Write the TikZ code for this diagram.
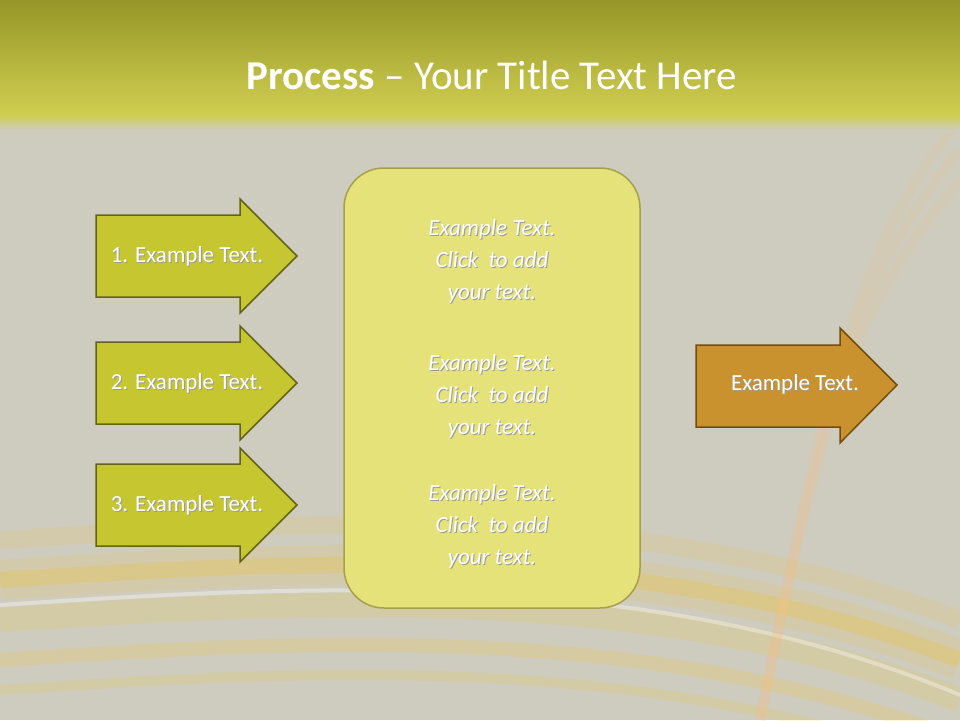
\documentclass[tikz,border=0pt]{standalone}
\usepackage{fontspec}
\setmainfont{Carlito}
\begin{document}
\begin{tikzpicture}[x=1pt,y=-1pt,
  txt/.style={text=white,font=\fontsize{23}{32}\selectfont,align=center},
  shad/.style={text=black!40,font=\fontsize{23}{32}\selectfont,align=center}]
\useasboundingbox (0,0) rectangle (960,720);
\fill[color={rgb,255:red,206;green,204;blue,190}] (0,0) rectangle (960,720);
% glow curves
\foreach \o/\w/\c in {0/40/0.10,0/16/0.18,40/24/0.12,80/14/0.15,-40/18/0.10,110/10/0.12}{
  \draw[line width=\w pt,color=orange!50!yellow,opacity=\c] (0,580+\o) .. controls (300,560+\o) and (650,540+\o) .. (960,660+\o);}
\draw[line width=4pt,white,opacity=0.35] (0,605) .. controls (300,585) and (650,565) .. (960,695);
\foreach \o in {0,30,60}{
  \draw[line width=10pt,color=orange!50,opacity=0.12] (960,120+\o) .. controls (850,250+\o) and (820,420) .. (760,720);}
% title bar
\shade[top color={rgb,255:red,150;green,150;blue,40},bottom color={rgb,255:red,208;green,206;blue,80}] (0,0) rectangle (960,115);
\shade[top color={rgb,255:red,208;green,206;blue,80},bottom color={rgb,255:red,206;green,204;blue,190}] (0,115) rectangle (960,130);
\node[text=white,font=\fontsize{41}{48}\selectfont] (title) at (492,75) {\textbf{Process} -- Your Title Text Here};
% arrows
\foreach \n/\cy/\t in {a/256/1. Example Text.,b/383/2. Example Text.,c/505/3. Example Text.}{
  \draw[line width=1.5pt,draw={rgb,255:red,100;green,100;blue,25},fill={rgb,255:red,198;green,198;blue,48}]
   (96,\cy-41) -- (240,\cy-41) -- (240,\cy-57) -- (297,\cy) -- (240,\cy+57) -- (240,\cy+41) -- (96,\cy+41) -- cycle;
  \node[shad] at (188,\cy+1.5) {\t};
  \node[txt] (\n) at (187,\cy) {\t};}
\draw[line width=1.5pt,draw={rgb,255:red,165;green,160;blue,75},fill={rgb,255:red,229;green,226;blue,122},rounded corners=40pt] (344,168) rectangle (640,608);
\foreach \n/\cy in {p/261,q/396,r/526}{
  \node[shad] at (493,\cy+1.5) {\itshape Example Text.\\\itshape Click\ \ to add\\\itshape your text.};
  \node[txt] (\n) at (492,\cy) {\itshape Example Text.\\\itshape Click\ \ to add\\\itshape your text.};}
\draw[line width=1.5pt,draw={rgb,255:red,115;green,78;blue,15},fill={rgb,255:red,202;green,146;blue,46}]
 (696,345) -- (840,345) -- (840,328) -- (897,385) -- (840,443) -- (840,427) -- (696,427) -- cycle;
\node[shad] at (796,385.5) {Example Text.};
\node[txt] (out) at (795,384) {Example Text.};
\end{tikzpicture}
\end{document}
